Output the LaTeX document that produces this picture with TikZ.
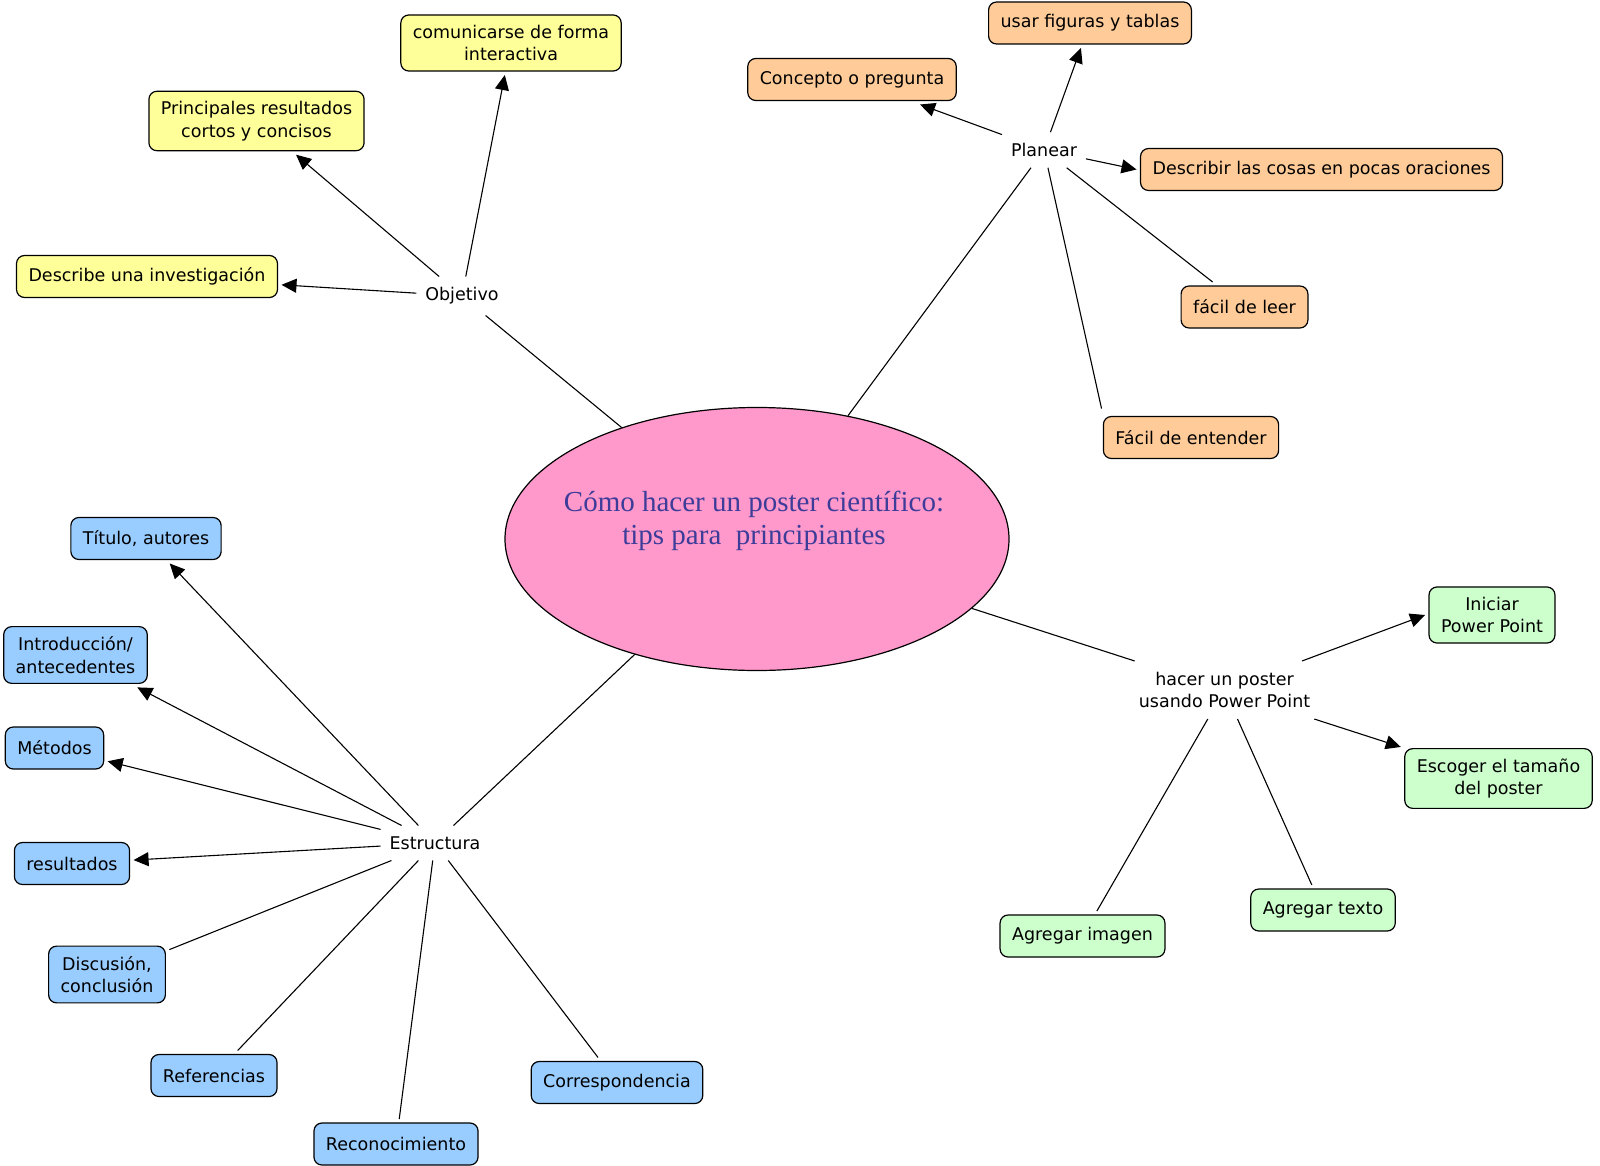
\documentclass[tikz,border=0pt]{standalone}
\usepackage{fontspec}
\setmainfont{DejaVu Sans}
\newfontfamily\titlefont{Liberation Serif}
\usetikzlibrary{arrows.meta,shapes.geometric}

\definecolor{yellowbox}{HTML}{FFFF99}
\definecolor{peachbox}{HTML}{FFCC99}
\definecolor{bluebox}{HTML}{99CCFF}
\definecolor{greenbox}{HTML}{CCFFCC}
\definecolor{pinkoval}{HTML}{FF99CC}
\definecolor{titleblue}{HTML}{3D3D99}

\tikzset{
  concept/.style={draw=black, line width=1.2pt, rounded corners=8pt,
    inner xsep=12pt, inner ysep=10pt, minimum height=42pt,
    align=center, outer sep=4pt},
  linker/.style={inner xsep=7pt, inner ysep=9pt, align=center, outer sep=2pt},
  link/.style={line width=1.1pt},
  arrowlink/.style={link, -{Triangle[length=15pt,width=14pt]}}
}

\begin{document}
\begin{tikzpicture}[x=1pt,y=-1pt]
                    \useasboundingbox (0,0) rectangle (1600,1166);
                    {\fontsize{17.5}{22.5}\selectfont

                    % Drawing central topic
                    \node [ellipse, draw, fill=pinkoval, line width=1.2pt, minimum width=504pt, minimum height=263pt, inner sep=0pt] (tema) at (757,539) {};
                    \node [text=titleblue, font=\titlefont\fontsize{29}{33}\selectfont, align=center] (titulo) at (754,521) {Cómo hacer un poster científico:\\tips para~~principiantes};

                    % Marking linking phrases
                    \node [linker] (objetivo) at (462,296) {Objetivo};
                    \node [linker] (planear) at (1044,150) {Planear};
                    \node [linker] (estructura) at (435,843) {Estructura};
                    \node [linker] (hacer) at (1224.5,690) {hacer un poster\\usando Power Point};

                    % Drawing concepts of Objetivo
                    \node [concept, fill=yellowbox] (comunicarse) at (511,43) {comunicarse de forma\\interactiva};
                    \node [concept, fill=yellowbox] (principales) at (256.5,121) {Principales resultados\\cortos y concisos};
                    \node [concept, fill=yellowbox] (describe) at (147,276.5) {Describe una investigación};

                    % Drawing concepts of Planear
                    \node [concept, fill=peachbox] (usar) at (1090,23) {usar figuras y tablas};
                    \node [concept, fill=peachbox] (concepto) at (852,79.5) {Concepto o pregunta};
                    \node [concept, fill=peachbox] (describir) at (1321.5,169.5) {Describir las cosas en pocas oraciones};
                    \node [concept, fill=peachbox] (leer) at (1244.5,307) {fácil de leer};
                    \node [concept, fill=peachbox] (entender) at (1191,437.5) {Fácil de entender};

                    % Drawing concepts of Estructura
                    \node [concept, fill=bluebox] (autores) at (146,538.5) {Título, autores};
                    \node [concept, fill=bluebox] (intro) at (75.5,655) {Introducción/\\antecedentes};
                    \node [concept, fill=bluebox] (metodos) at (54.5,748) {Métodos};
                    \node [concept, fill=bluebox] (resultados) at (72,863.5) {resultados};
                    \node [concept, fill=bluebox] (discusion) at (107,974.5) {Discusión,\\conclusión};
                    \node [concept, fill=bluebox] (referencias) at (214,1075.5) {Referencias};
                    \node [concept, fill=bluebox] (reconocimiento) at (396,1144) {Reconocimiento};
                    \node [concept, fill=bluebox] (correspondencia) at (617,1082.5) {Correspondencia};

                    % Drawing concepts of Power Point
                    \node [concept, fill=greenbox] (iniciar) at (1492,615) {Iniciar\\Power Point};
                    \node [concept, fill=greenbox] (escoger) at (1498.5,778.5) {Escoger el tamaño\\del poster};
                    \node [concept, fill=greenbox] (imagen) at (1082.5,936) {Agregar imagen};
                    \node [concept, fill=greenbox] (texto) at (1323,910) {Agregar texto};

                    % Drawing links from the topic
                    \draw [link] (tema) -- (objetivo);
                    \draw [link] (tema) -- (planear);
                    \draw [link] (tema) -- (estructura);
                    \draw [link] (tema) -- (hacer);

                    % Drawing links of Objetivo
                    \draw [arrowlink] (objetivo) -- (describe);
                    \draw [arrowlink] (objetivo) -- (principales);
                    \draw [arrowlink] (objetivo) -- (comunicarse);

                    % Drawing links of Planear
                    \draw [arrowlink] (planear) -- (concepto);
                    \draw [arrowlink] (planear) -- (usar);
                    \draw [arrowlink] (planear) -- (describir.west);
                    \draw [link] (planear) -- (leer);
                    \draw [link, shorten >=4pt] (planear) -- ([xshift=3pt]entender.north west);

                    % Drawing links of Estructura
                    \draw [arrowlink] (estructura) -- (autores);
                    \draw [arrowlink] (estructura) -- (intro);
                    \draw [arrowlink] (estructura) -- (metodos);
                    \draw [arrowlink] (estructura) -- (resultados);
                    \draw [link] (estructura) -- (discusion);
                    \draw [link] (estructura) -- (referencias);
                    \draw [link] (estructura) -- (reconocimiento);
                    \draw [link] (estructura) -- (correspondencia);

                    % Drawing links of Power Point
                    \draw [arrowlink] (hacer) -- (iniciar.west);
                    \draw [arrowlink] (hacer) -- (escoger);
                    \draw [link] (hacer) -- (imagen);
                    \draw [link] (hacer) -- (texto);
                    }
\end{tikzpicture}
\end{document}
